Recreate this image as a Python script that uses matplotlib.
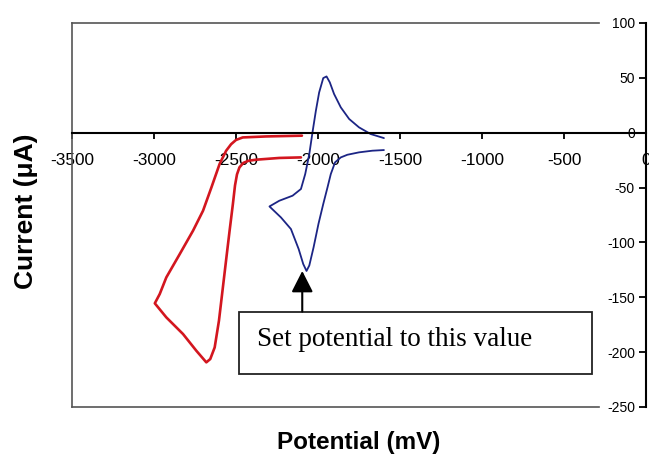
import matplotlib
matplotlib.use("Agg")
import matplotlib.pyplot as plt
from matplotlib.patches import Rectangle

# Data (potential in mV, current in uA)
red_potential = [-2104, -2236, -2378, -2425, -2455, -2479, -2494, -2506, -2519, -2539,
                 -2556, -2580, -2604, -2630, -2657, -2681, -2742, -2823, -2925, -2995,
                 -2965, -2925, -2843, -2762, -2701, -2650, -2600, -2560, -2530, -2500,
                 -2459, -2317, -2098]
red_current = [-22.5, -23.0, -24.6, -25.6, -27.5, -31.6, -38.0, -48.0, -65.0, -89.3,
               -110.6, -141.0, -171.4, -195.7, -206.3, -209.3, -198.7, -183.5, -168.3, -155.5,
               -147.0, -131.9, -110.6, -89.3, -71.1, -49.9, -28.5, -16.4, -10.5, -6.6,
               -4.3, -3.4, -2.7]

blue_potential = [-1598, -1669, -1750, -1821, -1861, -1896, -1922, -1942, -1968, -1997,
                  -2027, -2053, -2070, -2090, -2118, -2165, -2226, -2296, -2236, -2155,
                  -2104, -2078, -2053, -2033, -2013, -1993, -1968, -1948, -1928, -1902,
                  -1861, -1810, -1750, -1679, -1598]
blue_current = [-15.8, -16.4, -17.9, -20.1, -22.5, -27.0, -37.7, -49.8, -65.0, -83.0,
                -104.5, -121.0, -126.0, -119.7, -106.0, -87.8, -77.2, -67.2, -62.0, -57.4,
                -51.3, -37.7, -19.4, 0.9, 20.0, 36.7, 49.8, 51.3, 45.9, 35.3,
                23.1, 12.5, 4.9, -1.2, -4.9]

x_ticks = [-3500, -3000, -2500, -2000, -1500, -1000, -500, 0]
y_ticks = [100, 50, 0, -50, -100, -150, -200, -250]

annotation_text = "Set potential to this value"

fig = plt.figure(figsize=(6.49, 4.55), dpi=100)
ax = fig.add_axes([72/649, 1-407/455, 574/649, 384/455])

ax.plot(red_potential, red_current, color='#d3161f', lw=1.9,
        solid_capstyle='round', solid_joinstyle='round')
ax.plot(blue_potential, blue_current, color='#1c2585', lw=1.3,
        solid_capstyle='round', solid_joinstyle='round')

ax.set_xlim(-3500, 0)
ax.set_ylim(-250, 100)

# Frame
frame_col = '#555555'
ax.spines['left'].set_color(frame_col)
ax.spines['left'].set_linewidth(1.2)
ax.spines['top'].set_color(frame_col)
ax.spines['top'].set_linewidth(1.2)
ax.spines['top'].set_bounds(-3500, -285)
ax.axhline(-250, xmin=0, xmax=0.918, color=frame_col, lw=1.2, clip_on=False)

# x axis at y=0
ax.spines['bottom'].set_position(('data', 0))
ax.spines['bottom'].set_color('black')
ax.spines['bottom'].set_linewidth(1.5)
ax.set_xticks(x_ticks)
ax.set_xticklabels([str(v) for v in x_ticks])
ax.tick_params(axis='x', direction='out', length=4.5, width=1.3, pad=10,
               labelsize=12.4, colors='black')

# y axis on the right at x=0, labels inside
ax.spines['right'].set_color('black')
ax.spines['right'].set_linewidth(1.5)
ax.yaxis.set_ticks_position('right')
ax.set_yticks(y_ticks)
ax.set_yticklabels([str(v) for v in y_ticks])
ax.tick_params(axis='y', direction='in', length=5, width=1.3, pad=-8,
               labelsize=10, colors='black')
for lbl in ax.get_yticklabels():
    lbl.set_horizontalalignment('right')

ax.set_xlabel("Potential (mV)", fontsize=17.5, fontweight='bold',
              family=['Liberation Sans', 'DejaVu Sans'])
ax.xaxis.set_label_coords(0.5, -0.062)
ax.yaxis.set_label_position('left')
ax.set_ylabel("Current (μA)", fontsize=19, fontweight='bold',
              family=['Liberation Sans', 'DejaVu Sans'])
ax.yaxis.set_label_coords(-0.06, 0.51)

for lbl in ax.get_xticklabels() + ax.get_yticklabels():
    lbl.set_family(['Liberation Sans', 'DejaVu Sans'])

# Annotation box and arrow
ax.add_patch(Rectangle((-2479, -219.7), 2151, 56.7, facecolor='white',
                       edgecolor='#222222', lw=1.3, zorder=4, clip_on=False))
ax.text(-2369, -188.5, annotation_text, fontsize=19.5, va='center', ha='left',
        family=['Liberation Serif', 'DejaVu Serif'], zorder=5)
ax.annotate("", xy=(-2096, -126), xytext=(-2096, -163),
            arrowprops=dict(arrowstyle='-|>,head_length=0.65,head_width=0.33',
                            mutation_scale=20, color='black', lw=1.5,
                            shrinkA=0, shrinkB=0), zorder=5)

fig.savefig("out.png", dpi=100)
